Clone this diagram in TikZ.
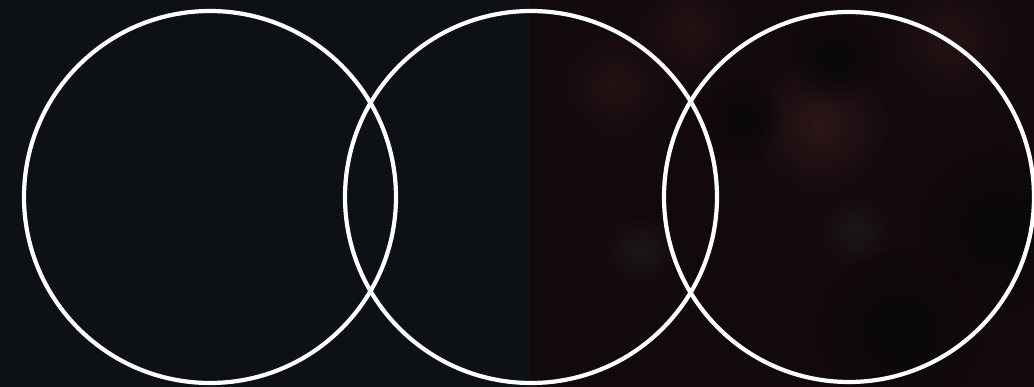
\documentclass[tikz,border=0pt]{standalone}
\usetikzlibrary{fadings}
\definecolor{leftbg}{HTML}{0D1014}
\definecolor{rightbg}{HTML}{12090C}
\definecolor{warm}{HTML}{241214}
\definecolor{warmlite}{HTML}{2C1618}
\definecolor{deep}{HTML}{07070A}
\definecolor{greyish}{HTML}{1C161B}
\tikzfading[name=softblob, inner color=transparent!0, outer color=transparent!100]
\tikzset{
  ring/.style={draw=white, line width=4.2pt},
  blob/.style={path fading=softblob},
}
\begin{document}
\begin{tikzpicture}[x=1pt,y=-1pt]
\useasboundingbox (0,0) rectangle (1034,387);
\fill[leftbg] (0,0) rectangle (530,387);
\fill[rightbg] (530,0) rectangle (1034,387);
\begin{scope}
\clip (530,0) rectangle (1034,387);
\fill[warm, blob] (615,85) circle (60);
\fill[warmlite, blob] (820,125) circle (75);
\fill[warm, blob] (690,30) circle (60);
\fill[warm, blob] (950,40) circle (70);
\fill[deep, blob] (835,60) circle (45);
\fill[deep, blob] (745,120) circle (40);
\fill[greyish, blob] (855,230) circle (40);
\fill[greyish, blob] (640,250) circle (40);
\fill[deep, blob] (1000,230) circle (80);
\fill[deep, blob] (900,330) circle (80);
\end{scope}
\draw[ring] (210,197) circle (186);
\draw[ring] (531,197) circle (186);
\draw[ring] (849,197) circle (185);
\end{tikzpicture}
\end{document}
